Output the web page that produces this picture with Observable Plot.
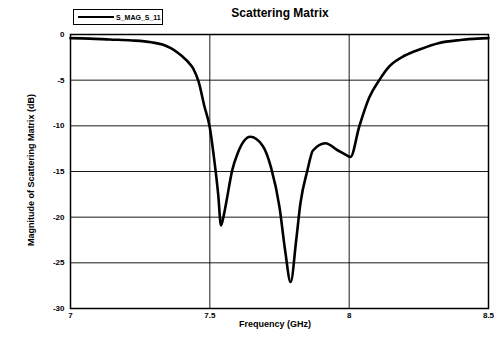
<!DOCTYPE html>
<html><head><meta charset="utf-8">
<script src="https://cdn.jsdelivr.net/npm/d3@7"></script>
<script src="https://cdn.jsdelivr.net/npm/@observablehq/plot@0.6"></script>
<style>
body{margin:0;background:#fff;font-family:"Liberation Sans",Arial,sans-serif;}
#wrap{position:relative;width:497px;height:343px;}
.t{position:absolute;font-weight:bold;color:#000;}
</style></head><body>
<div id="wrap"></div>
<script>
const freq = [7.0,7.07,7.14,7.22,7.29,7.33,7.36,7.385,7.405,7.425,7.44,7.46,7.48,7.5,7.515,7.53,7.54,7.55,7.56,7.58,7.6,7.645,7.69,7.72,7.75,7.77,7.79,7.81,7.825,7.85,7.87,7.915,7.96,7.99,8.005,8.036,8.072,8.108,8.144,8.2,8.26,8.32,8.4,8.46,8.5];
const mag  = [-0.4,-0.45,-0.55,-0.65,-0.85,-1.1,-1.5,-2.0,-2.5,-3.1,-3.7,-5.2,-7.8,-10.2,-13.5,-17.5,-20.9,-19.8,-18.2,-14.9,-13.0,-11.2,-12.2,-14.6,-18.9,-23.6,-27.1,-22.5,-18.5,-14.9,-12.7,-11.9,-12.7,-13.2,-13.4,-10.1,-6.9,-5.0,-3.5,-2.3,-1.55,-0.95,-0.6,-0.45,-0.4];
const xTicks = [7,7.5,8,8.5];
const xTickLabels = ["7","7.5","8","8.5"];
const yTicks = [0,-5,-10,-15,-20,-25,-30];
const seriesName = "S_MAG_S_11";

const data = freq.map((f,i)=>({f, m: mag[i]}));
const chart = Plot.plot({
  width: 497, height: 343,
  marginLeft: 70, marginRight: 9, marginTop: 34, marginBottom: 35,
  style: {fontFamily: "Liberation Sans, Arial, sans-serif", fontSize: "8px", fontWeight: "bold", color: "#000", background: "#fff"},
  x: {domain: [7, 8.5], ticks: xTicks, tickFormat: (d)=>xTickLabels[xTicks.indexOf(d)], label: null, tickSize: 0, tickPadding: 4},
  y: {domain: [-30, 0], ticks: yTicks, tickFormat: d => String(d), label: null, tickSize: 0, tickPadding: 6},
  marks: [
    Plot.gridX(xTicks, {stroke: "#000", strokeOpacity: 0.9, strokeWidth: 1}),
    Plot.gridY(yTicks, {stroke: "#000", strokeOpacity: 0.9, strokeWidth: 1}),
    Plot.frame({stroke: "#000", strokeWidth: 1.5}),
    Plot.line(data, {x: "f", y: "m", stroke: "#000", strokeWidth: 2.6, curve: "monotone-x"})
  ]
});
const wrap = document.getElementById("wrap");
wrap.appendChild(chart);

function addText(txt, css){const d=document.createElement("div");d.className="t";d.textContent=txt;Object.assign(d.style,css);wrap.appendChild(d);return d;}
addText("Scattering Matrix",{left:"0",width:"560px",textAlign:"center",top:"6px",fontSize:"12px"});
addText("Frequency (GHz)",{left:"60px",width:"430px",textAlign:"center",top:"319px",fontSize:"9px"});
addText("Magnitude of Scattering Matrix (dB)",{left:"31px",top:"170px",fontSize:"9px",whiteSpace:"nowrap",transform:"translate(-50%,-50%) rotate(-90deg)"});
// legend
const lg = document.createElement("div");
Object.assign(lg.style,{position:"absolute",left:"73px",top:"9px",width:"88px",height:"14px",border:"1.5px solid #000",background:"#fff",display:"flex",alignItems:"center",fontSize:"7px",fontWeight:"bold"});
lg.innerHTML = '<span style="display:inline-block;width:36px;height:0;border-top:2px solid #000;margin:0 2px 0 4px"></span><span></span>';
lg.lastChild.textContent = seriesName;
wrap.appendChild(lg);
</script>
</body></html>
